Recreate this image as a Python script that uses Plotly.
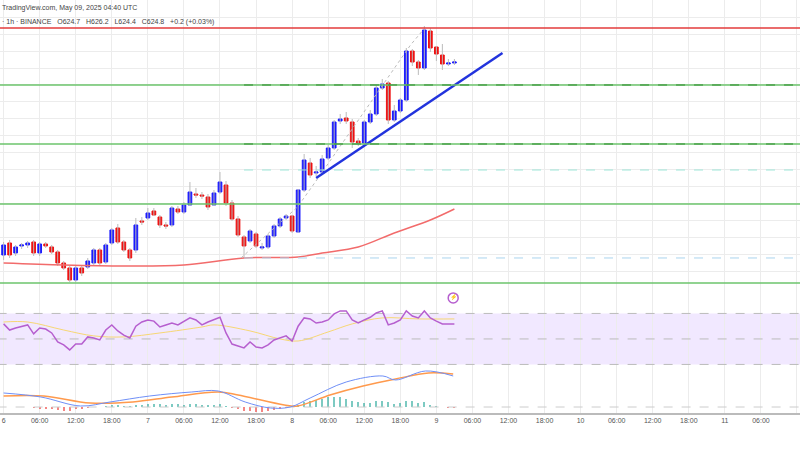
import plotly.graph_objects as go
from plotly.subplots import make_subplots

# hourly candles, hour 0 = May 6 00:00 UTC
opens = [605.3, 606.5, 605.5, 606.2, 606.3, 606.6, 605.5, 606.4, 606.1, 605.6,
         604.5, 604.0, 602.8, 604.0, 604.1, 604.5, 605.8, 604.6, 606.5, 608.0,
         606.6, 605.8, 605.8, 608.7, 609.0, 609.7, 609.1, 608.3, 608.3, 609.9,
         609.6, 610.3, 611.4, 611.3, 611.1, 610.3, 611.6, 612.3, 610.5, 608.9,
         607.1, 606.7, 607.4, 606.0, 606.1, 607.2, 608.2, 609.0, 609.2, 607.6,
         611.8, 614.5, 613.5, 613.6, 615.0, 616.0, 618.7, 619.0, 618.6, 616.7,
         616.5, 618.6, 619.4, 622.0, 622.5, 618.8, 619.7, 620.8, 625.7, 624.6,
         624.0, 627.7, 626.1, 625.3, 624.4, 624.5]
closes = [606.3, 605.3, 606.1, 606.3, 606.5, 605.5, 606.4, 606.2, 605.6, 604.5,
          604.0, 602.8, 604.0, 603.5, 604.7, 605.8, 604.5, 606.3, 607.8, 606.6,
          605.8, 605.0, 608.3, 608.6, 609.5, 609.3, 608.3, 608.2, 610.0, 609.6,
          610.3, 611.6, 611.3, 611.2, 610.1, 611.5, 612.6, 610.5, 608.9, 607.3,
          606.2, 607.7, 606.2, 606.1, 607.2, 608.2, 608.9, 609.2, 607.7, 611.8,
          614.8, 613.3, 613.6, 614.9, 616.0, 618.6, 618.9, 618.7, 616.6, 616.5,
          618.6, 619.4, 622.0, 622.4, 618.8, 619.7, 620.8, 625.7, 624.6, 624.0,
          627.8, 626.0, 625.4, 624.4, 624.5, 624.6]
highs = [606.6, 606.8, 606.3, 606.5, 606.7, 606.8, 606.6, 606.6, 606.3, 605.8,
         604.7, 604.2, 604.2, 604.2, 605.0, 606.0, 606.0, 606.5, 608.0, 608.4,
         606.8, 606.0, 609.0, 609.1, 610.0, 610.0, 609.3, 608.6, 610.2, 610.2,
         610.6, 612.6, 612.0, 611.6, 611.4, 611.8, 613.6, 612.7, 610.8, 609.2,
         607.3, 607.9, 607.6, 606.5, 607.4, 608.4, 609.1, 609.4, 609.3, 611.9,
         615.4, 615.0, 614.2, 615.3, 616.3, 618.8, 619.4, 619.6, 618.9, 617.0,
         618.8, 619.8, 622.3, 622.9, 622.7, 620.3, 621.0, 626.0, 625.9, 624.8,
         628.2, 628.0, 626.2, 626.4, 624.9, 624.9]
lows = [604.8, 605.0, 605.2, 605.9, 606.0, 605.2, 605.2, 606.0, 605.4, 604.2,
        603.8, 602.6, 602.6, 603.2, 603.9, 604.3, 604.2, 604.4, 606.3, 606.4,
        605.6, 604.7, 605.5, 608.3, 608.8, 609.2, 608.0, 607.9, 608.1, 609.4,
        609.4, 610.2, 611.0, 610.9, 609.8, 610.2, 611.4, 610.2, 608.7, 607.1,
        605.0, 606.5, 606.0, 605.8, 605.9, 607.0, 608.0, 608.8, 607.5, 607.5,
        611.6, 613.0, 613.2, 613.4, 614.8, 615.8, 618.4, 618.4, 616.0, 616.2,
        616.3, 618.4, 619.2, 621.8, 618.4, 618.6, 619.5, 620.6, 624.2, 623.3,
        623.8, 625.6, 624.7, 623.8, 624.2, 624.3]
hours = list(range(len(opens)))

ma_hours = [0, 10, 20, 30, 40, 49, 53, 59, 65, 71, 75]
ma_vals = [604.5, 604.3, 604.2, 604.3, 605.0, 605.1, 605.5, 606.1, 607.5, 608.8, 609.9]

levels_green = [622.3, 616.4, 610.4, 602.5]
level_red = 628.0
trend_hours = [52, 83]
trend_vals = [613.0, 625.5]
path_hours = [39.5, 48.9, 52.1, 67.7, 69.8]
path_vals = [605.0, 610.1, 612.8, 626.3, 627.8]

rsi = [61.8, 57, 58.6, 60, 61, 54, 58.6, 57.8, 54.7, 47.6,
       45.3, 41.4, 46, 46, 51.6, 50.8, 49.2, 57, 61, 56.3,
       53, 50.8, 60, 63.3, 64.9, 64, 59.4, 61, 62.5, 61,
       64, 66.5, 64.9, 61, 63.3, 64.9, 67, 54.7, 46, 44.5,
       43, 47.6, 43.7, 43, 45.3, 49.2, 50.8, 52.4, 48.4, 60,
       66.5, 65.7, 62.5, 63.3, 64.9, 69.6, 72, 72, 64.9, 62.5,
       64.9, 67, 70.4, 72, 61, 62.5, 64.9, 72, 68, 66.5,
       72, 66.5, 64, 61.8, 61.8, 61.8]
rsi_ma_hours = [0, 4, 10, 15, 20, 26, 33, 35, 41, 46, 49, 54, 58, 63, 69, 75]
rsi_ma_vals = [63.3, 63.3, 57, 52.4, 51.6, 54.7, 59.4, 61, 56.3, 50, 48.4, 55.5, 61.8, 66.5, 65.7, 65.7]

macd_hours = [0, 6.2, 12.8, 17.7, 24.3, 31.3, 35.7, 40.2, 44.4, 47.7, 51, 57, 63.1, 65.2, 70.2, 74.8]
macd_vals = [3.5, 2.5, 0.25, 1.25, 2.75, 3.75, 4, 1.25, -0.25, 0, 2.25, 6.25, 7.75, 6.75, 9, 7.75]
signal_hours = [0, 6.7, 14.4, 21.5, 28, 35.7, 39, 46.7, 48.9, 54.3, 59.8, 65.2, 70.7, 74.8]
signal_vals = [2.75, 2.75, 1, 1.25, 2.5, 3.75, 3, 0.5, 0.25, 3, 5.25, 7, 8.5, 8.25]
hist = [0.1, 0, 0, -0.1, -0.1,
        -0.3, -0.4, -0.4, -0.6, -0.8, -1.0, -1.0,
        -0.6, -0.4, -0.2, 0.1, 0.1, 0.3, 0.4, 0.4, 0.3, 0.2,
        0.5, 0.6, 0.7, 0.8, 0.7, 0.6, 0.8, 0.7, 0.6, 0.8, 0.7, 0.6, 0.5, 0.6, 0.7,
        0.3, -0.2, -0.6, -0.9, -1.0, -1.2, -1.2, -1.0, -0.8, -0.5, -0.3,
        -0.1, 0.6, 1.2, 1.6, 1.8, 2.0, 2.4, 2.6, 2.5, 2.0,
        1.6, 1.2, 1.0, 1.1, 1.4, 1.6, 1.2, 0.8, 0.9, 1.4,
        1.5, 1.0, 1.3, 0.6, 0.2, -0.1, -0.2, -0.3]

tick_hours = list(range(0, 138, 6))
day_names = {0: "6", 24: "7", 48: "8", 72: "9", 96: "10", 120: "11"}
tick_text = [day_names.get(h, f"{h % 24:02d}:00") for h in tick_hours]

X_END = 134

fig = make_subplots(rows=3, cols=1, shared_xaxes=True, vertical_spacing=0)

# wicks
wx, wy = [], []
for h, hi, lo in zip(hours, highs, lows):
    wx += [h, h, None]
    wy += [lo, hi, None]
fig.add_trace(go.Scatter(x=wx, y=wy, mode="lines", line=dict(color="#bbbbbb", width=1),
                         hoverinfo="skip"), row=1, col=1)

fig.add_trace(go.Candlestick(
    x=hours, open=opens, close=closes,
    high=[max(o, c) for o, c in zip(opens, closes)],
    low=[min(o, c) for o, c in zip(opens, closes)],
    increasing=dict(line=dict(color="#1a1aff", width=1), fillcolor="#1a1aff"),
    decreasing=dict(line=dict(color="#ee1111", width=1), fillcolor="#ee1111"),
    whiskerwidth=0,
), row=1, col=1)

fig.add_trace(go.Scatter(x=ma_hours, y=ma_vals, mode="lines", line=dict(color="#f26b6b", width=1.5, shape="spline")),
              row=1, col=1)
fig.add_trace(go.Scatter(x=path_hours, y=path_vals, mode="lines", line=dict(color="#bbbbbb", width=1, dash="dot")),
              row=1, col=1)
fig.add_trace(go.Scatter(x=trend_hours, y=trend_vals, mode="lines", line=dict(color="#2233dd", width=2.5)),
              row=1, col=1)

for lv in levels_green:
    fig.add_trace(go.Scatter(x=[-1, X_END], y=[lv, lv], mode="lines", line=dict(color="#6cc46c", width=1.5)),
                  row=1, col=1)
for lv in levels_green[:2]:
    fig.add_trace(go.Scatter(x=[40, X_END], y=[lv, lv], mode="lines", line=dict(color="#2e8b2e", width=1, dash="dash")),
                  row=1, col=1)
fig.add_trace(go.Scatter(x=[40, X_END], y=[613.8, 613.8], mode="lines", line=dict(color="#9ee6d9", width=1, dash="dash")),
              row=1, col=1)
fig.add_trace(go.Scatter(x=[40, X_END], y=[605.0, 605.0], mode="lines", line=dict(color="#aad4ee", width=1, dash="dash")),
              row=1, col=1)
fig.add_trace(go.Scatter(x=[-1, X_END], y=[level_red, level_red], mode="lines", line=dict(color="#e33b3b", width=1.5)),
              row=1, col=1)

# RSI
fig.add_shape(type="rect", xref="x2", yref="y2", x0=-1, x1=X_END, y0=30, y1=70,
              fillcolor="rgba(190,150,255,0.22)", line=dict(width=0), layer="below")
for lv in [30, 50, 70]:
    fig.add_trace(go.Scatter(x=[-1, X_END], y=[lv, lv], mode="lines", line=dict(color="#bbbbbb", width=1, dash="dash")),
                  row=2, col=1)
fig.add_trace(go.Scatter(x=rsi_ma_hours, y=rsi_ma_vals, mode="lines", line=dict(color="#f7d774", width=1, shape="spline")),
              row=2, col=1)
fig.add_trace(go.Scatter(x=hours, y=rsi, mode="lines", line=dict(color="#b65fcf", width=1.5)), row=2, col=1)
fig.add_trace(go.Scatter(x=[74.8], y=[82.2], mode="markers+text", text=["⚡"], textfont=dict(size=6, color="#b65fcf"),
                         textposition="middle center",
                         marker=dict(symbol="circle-open", size=10, color="#b65fcf", line=dict(width=1.5))),
              row=2, col=1)

# MACD
fig.add_trace(go.Scatter(x=[-1, X_END], y=[0, 0], mode="lines", line=dict(color="#cccccc", width=1, dash="dash")),
              row=3, col=1)
fig.add_trace(go.Bar(x=hours, y=hist, width=0.3,
                     marker=dict(line=dict(width=0),
                                 color=["rgba(38,166,154,0.6)" if v >= 0 else "rgba(239,83,80,0.7)" for v in hist])),
              row=3, col=1)
fig.add_trace(go.Scatter(x=signal_hours, y=signal_vals, mode="lines", line=dict(color="#ff9a4d", width=1.5, shape="spline")),
              row=3, col=1)
fig.add_trace(go.Scatter(x=macd_hours, y=macd_vals, mode="lines", line=dict(color="#6f8ff7", width=1, shape="spline")),
              row=3, col=1)

grid = "#ececec"
xcommon = dict(range=[-0.6, 132.5], tickmode="array", tickvals=tick_hours, ticktext=tick_text,
               showgrid=True, gridcolor=grid, zeroline=False, rangeslider=dict(visible=False))
fig.update_layout(
    width=800, height=450, margin=dict(l=0, r=0, t=0, b=0, autoexpand=False),
    paper_bgcolor="white", plot_bgcolor="white", showlegend=False,
    font=dict(family="Liberation Sans, Arial", color="#555555"),
    xaxis=dict(**xcommon, showticklabels=False),
    xaxis2=dict(**xcommon, showticklabels=False),
    xaxis3=dict(**xcommon, showticklabels=True, tickfont=dict(size=7, color="#555555"),
                showline=True, linecolor="#bbbbbb", linewidth=2, ticks="", automargin=False),
    yaxis=dict(domain=[0.3556, 1], range=[601.8, 630.8], showticklabels=False, showgrid=True,
               gridcolor=grid, tick0=610.4, dtick=1.7, zeroline=False),
    yaxis2=dict(domain=[0.1867, 0.3556], range=[28.8, 88.4], showticklabels=False, showgrid=False, zeroline=False),
    yaxis3=dict(domain=[0.0822, 0.1867], range=[-1.5, 10.25], showticklabels=False, showgrid=False, zeroline=False),
    bargap=0, boxgap=0.12,
)

fig.add_annotation(xref="paper", yref="paper", x=0.0, y=1.0, yshift=-2, xanchor="left", yanchor="top", showarrow=False,
                   text="TradingView.com, May 09, 2025 04:40 UTC", font=dict(size=7, color="#444444"))
fig.add_annotation(xref="paper", yref="paper", x=0.0, y=1.0, yshift=-16, xanchor="left", yanchor="top", showarrow=False,
                   text="· 1h · BINANCE   O624.7   H626.2   L624.4   C624.8   +0.2 (+0.03%)",
                   font=dict(size=7, color="#444444"))

fig.write_html("out.html", config={"displayModeBar": False},
               post_script="document.body.style.margin='0';")
